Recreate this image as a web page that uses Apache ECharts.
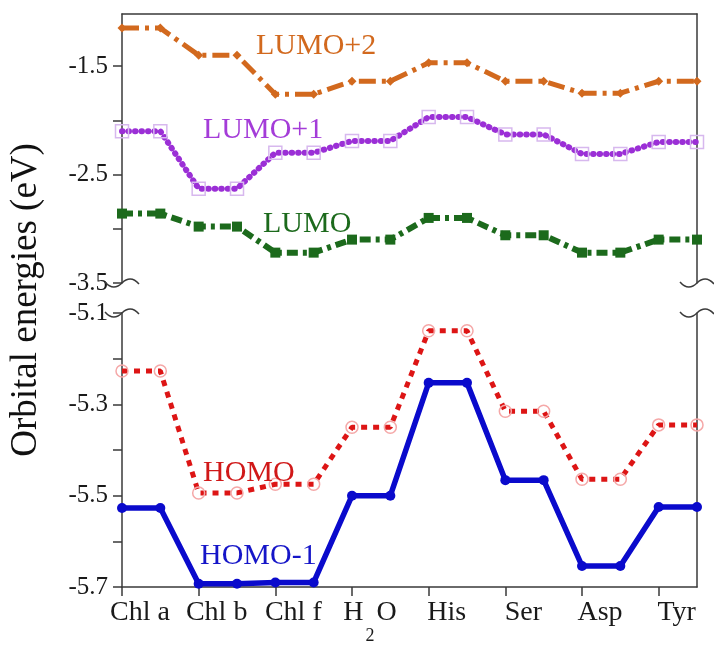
<!DOCTYPE html>
<html><head><meta charset="utf-8">
<script src="https://cdn.jsdelivr.net/npm/echarts@6/dist/echarts.min.js"></script>
<style>html,body{margin:0;padding:0;background:#fff}#c{width:714px;height:645px}</style>
</head><body><div id="c"></div>
<script>
// ---- data ----
const categories = ['Chl a', 'Chl b', 'Chl f', 'H2O', 'His', 'Ser', 'Asp', 'Tyr'];
const lumo2 = [-1.15, -1.40, -1.76, -1.64, -1.47, -1.64, -1.75, -1.64];
const lumo1 = [-2.10, -2.63, -2.30, -2.19, -1.97, -2.13, -2.31, -2.20];
const lumo  = [-2.86, -2.98, -3.22, -3.10, -2.90, -3.06, -3.22, -3.10];
const homo  = [-5.227, -5.494, -5.475, -5.350, -5.139, -5.315, -5.464, -5.345];
const homo1 = [-5.527, -5.693, -5.690, -5.500, -5.253, -5.466, -5.654, -5.525];
const topTicks  = [-3.5, -3.0, -2.5, -2.0, -1.5];
const topLabels = [-3.5, -2.5, -1.5];
const botTicks  = [-5.7, -5.6, -5.5, -5.4, -5.3, -5.2, -5.1];
const botLabels = [-5.7, -5.5, -5.3, -5.1];
const seriesNames = ['LUMO+2', 'LUMO+1', 'LUMO', 'HOMO', 'HOMO-1'];
const yTitle = 'Orbital energies (eV)';

// each molecule is drawn as a short level: from index i to i + 0.5
function levels(vals) { return vals.flatMap((v, i) => [[i, v], [i + 0.5, v]]); }

const FONT = '"Liberation Serif", "Times New Roman", serif';
const AX = '#3a3a3a';
const L = 122, R = 697, TOP = 14, TOPB = 283, BOTT = 313, BOTB = 587;

const chart = echarts.init(document.getElementById('c'), null, {renderer: 'canvas'});

function yAxisDef(gi, min, max, ticks, labs, right) {
  return {
    type: 'value', gridIndex: gi, min: min, max: max, position: right ? 'right' : 'left',
    axisLine: {show: true, onZero: false, lineStyle: {color: AX, width: 1.5}},
    axisTick: right ? {show: false} : {show: true, length: 9, customValues: ticks, lineStyle: {color: AX, width: 1.5}},
    axisLabel: right ? {show: false} : {show: true, customValues: labs, margin: 14, fontFamily: FONT, fontSize: 25, color: '#1a1a1a',
      formatter: v => v.toFixed(1)},
    splitLine: {show: false}
  };
}

const colors = {l2: '#D2691E', l1: '#9B2FD6', l0: '#1C6A1C', h0: '#DD1515', h1: '#0A0ACC'};

const option = {
  animation: false,
  backgroundColor: '#fff',
  grid: [
    {left: L, right: 714 - R, top: TOP, height: TOPB - TOP},
    {left: L, right: 714 - R, top: BOTT, height: BOTB - BOTT}
  ],
  xAxis: [
    {type: 'value', gridIndex: 0, min: 0, max: 7.5, position: 'top',
     axisLine: {show: true, onZero: false, lineStyle: {color: AX, width: 1.5}},
     axisTick: {show: false}, axisLabel: {show: false}, splitLine: {show: false}},
    {type: 'value', gridIndex: 1, min: 0, max: 7.5, position: 'bottom',
     axisLine: {show: true, onZero: false, lineStyle: {color: AX, width: 1.5}},
     axisTick: {show: true, length: 9, customValues: [0, 1, 2, 3, 4, 5, 6, 7], lineStyle: {color: AX, width: 1.5}},
     axisLabel: {show: true, customValues: [0, 1, 2, 3, 4, 5, 6, 7], margin: 12, padding: [0, 0, 0, 36],
       formatter: v => {
         const n = categories[Math.round(v)];
         return n === 'H2O' ? '{m|H}{s|2}{m|O}' : '{m|' + n + '}';
       },
       rich: {
         m: {fontFamily: FONT, fontSize: 28, lineHeight: 30, color: '#1a1a1a', verticalAlign: 'top'},
         s: {fontFamily: FONT, fontSize: 18, lineHeight: 18, color: '#1a1a1a', verticalAlign: 'top', padding: [28, 2, 0, 2]}
       }},
     splitLine: {show: false}}
  ],
  yAxis: [
    yAxisDef(0, -3.5, -1.02, topTicks, topLabels, false),
    yAxisDef(0, -3.5, -1.02, topTicks, topLabels, true),
    yAxisDef(1, -5.7, -5.1, botTicks, botLabels, false),
    yAxisDef(1, -5.7, -5.1, botTicks, botLabels, true)
  ],
  series: [
    {name: seriesNames[0], type: 'line', xAxisIndex: 0, yAxisIndex: 0, data: levels(lumo2),
     symbol: 'diamond', symbolSize: 9, itemStyle: {color: colors.l2},
     lineStyle: {color: colors.l2, width: 5, type: [17, 6, 4, 6]}},
    {name: seriesNames[1], type: 'line', xAxisIndex: 0, yAxisIndex: 0, data: levels(lumo1),
     symbol: 'rect', symbolSize: 13, itemStyle: {color: 'rgba(0,0,0,0)', borderColor: '#D7B8EE', borderWidth: 1.5},
     lineStyle: {color: colors.l1, width: 6, type: [0.5, 6], cap: 'round'}, z: 3},
    {name: seriesNames[2], type: 'line', xAxisIndex: 0, yAxisIndex: 0, data: levels(lumo),
     symbol: 'rect', symbolSize: 10, itemStyle: {color: colors.l0},
     lineStyle: {color: colors.l0, width: 6, type: [11, 5, 4, 5]}},
    {name: seriesNames[3], type: 'line', xAxisIndex: 1, yAxisIndex: 2, data: levels(homo),
     symbol: 'circle', symbolSize: 12, itemStyle: {color: 'rgba(0,0,0,0)', borderColor: '#F5A8A8', borderWidth: 1.5},
     lineStyle: {color: colors.h0, width: 5, type: [6, 6]}},
    {name: seriesNames[4], type: 'line', xAxisIndex: 1, yAxisIndex: 2, data: levels(homo1),
     symbol: 'circle', symbolSize: 10, itemStyle: {color: colors.h1},
     lineStyle: {color: colors.h1, width: 5.5}}
  ],
  graphic: []
};

// axis break marks (tilde shapes at the ends of the broken axes)
function tilde(x, y) {
  return [
    {type: 'bezierCurve', z: 50, shape: {x1: x - 17, y1: y - 1, cpx1: x - 11, cpy1: y + 6, cpx2: x - 5, cpy2: y + 5, x2: x, y2: y},
     style: {stroke: AX, lineWidth: 1.5, fill: null}},
    {type: 'bezierCurve', z: 50, shape: {x1: x, y1: y, cpx1: x + 5, cpy1: y - 5, cpx2: x + 11, cpy2: y - 6, x2: x + 17, y2: y + 1},
     style: {stroke: AX, lineWidth: 1.5, fill: null}}
  ];
}
[[L, TOPB], [L, BOTT], [R, TOPB], [R, BOTT]].forEach(p => option.graphic.push(...tilde(p[0], p[1])));

// series name labels inside the plot
const nameLabels = [
  {t: seriesNames[0], x: 256, y: 46, c: colors.l2},
  {t: seriesNames[1], x: 203, y: 130, c: '#A43CD8'},
  {t: seriesNames[2], x: 263, y: 224, c: colors.l0},
  {t: seriesNames[3], x: 203, y: 473, c: '#D01818'},
  {t: seriesNames[4], x: 200, y: 556, c: '#1515C8'}
];
nameLabels.forEach(o => option.graphic.push({
  type: 'text', z: 100, x: o.x, y: o.y,
  style: {text: o.t, fill: o.c, font: '30px ' + FONT, textAlign: 'left', textVerticalAlign: 'middle'}
}));

// y axis title
option.graphic.push({
  type: 'text', z: 100, x: 26, y: 300, rotation: Math.PI / 2,
  style: {text: yTitle, fill: '#111', font: '37px ' + FONT, textAlign: 'center', textVerticalAlign: 'middle'}
});

chart.setOption(option);
</script>
</body></html>
